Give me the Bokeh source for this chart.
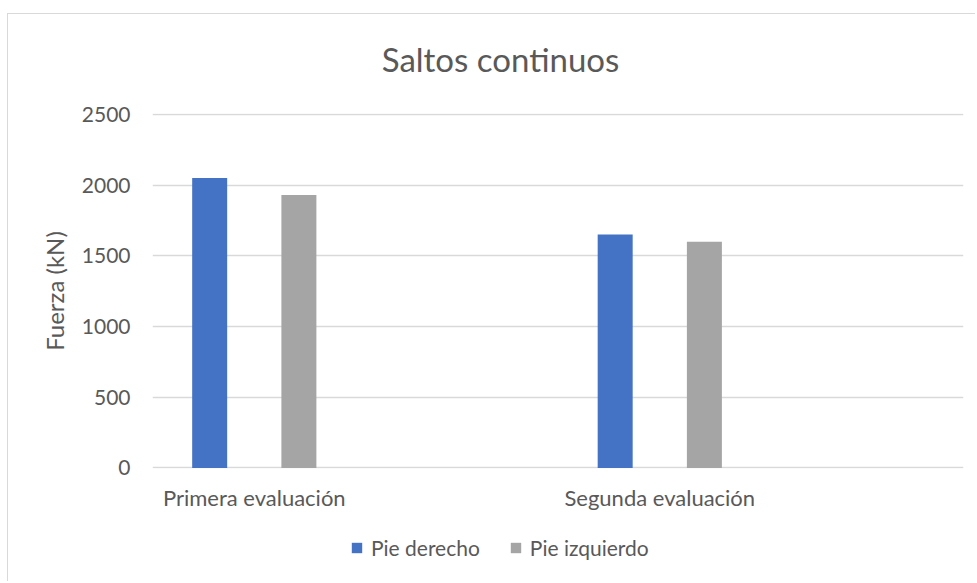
from bokeh.plotting import figure
from bokeh.layouts import column
from bokeh.models import Range1d, FixedTicker, Legend, LegendItem, ColumnDataSource, Label
from bokeh.embed import file_html
from bokeh.resources import INLINE

# ---- data ----
categories = ["Primera evaluación", "Segunda evaluación"]
series_names = ["Pie derecho", "Pie izquierdo"]
pie_derecho = [2050, 1650]
pie_izquierdo = [1930, 1600]
y_ticks = [0, 500, 1000, 1500, 2000, 2500]
title_text = "Saltos continuos"
y_label = "Fuerza (kN)"

# ---- style ----
FONT = "Lato"
TEXT = "#595959"
GRID = "#d9d9d9"
BLUE = "#4472C4"
GRAY = "#A5A5A5"
DODGE = 0.11
BAR_W = 0.0863
W = 967


def strip(height):
    f = figure(width=W, height=height, x_range=Range1d(0, 1), y_range=Range1d(0, 1),
               output_backend="svg", toolbar_location=None,
               x_axis_type=None, y_axis_type=None,
               min_border_left=0, min_border_right=0, min_border_top=0, min_border_bottom=0)
    f.outline_line_color = None
    f.grid.visible = False
    f.background_fill_color = "white"
    f.border_fill_color = "white"
    return f


# ---- title strip ----
tf = strip(86)
tf.add_layout(Label(x=348, y=42, x_units="screen", y_units="screen",
                    text=title_text, text_align="center", text_baseline="alphabetic",
                    text_font=FONT, text_font_size="33px", text_color=TEXT))

# ---- main chart ----
idx = list(range(len(categories)))
src = ColumnDataSource(dict(
    x1=[i - DODGE for i in idx],
    x2=[i + DODGE for i in idx],
    d=pie_derecho,
    iz=pie_izquierdo,
))

p = figure(width=W, height=425,
           x_range=Range1d(-0.251, 1.749), y_range=Range1d(-4, 2506),
           output_backend="svg", toolbar_location=None,
           min_border_left=144, min_border_right=12,
           min_border_top=13, min_border_bottom=57)
p.outline_line_color = None
p.background_fill_color = "white"
p.border_fill_color = "white"

r1 = p.vbar(x="x1", top="d", bottom=0, width=BAR_W, source=src, fill_color=BLUE, line_color=None)
r2 = p.vbar(x="x2", top="iz", bottom=0, width=BAR_W, source=src, fill_color=GRAY, line_color=None)

p.xgrid.visible = False
p.ygrid.ticker = FixedTicker(ticks=y_ticks)
p.ygrid.grid_line_color = GRID
p.ygrid.grid_line_width = 1.5

ya = p.yaxis[0]
ya.ticker = FixedTicker(ticks=y_ticks)
ya.axis_line_color = None
ya.major_tick_line_color = None
ya.minor_tick_line_color = None
ya.major_tick_out = 0
ya.major_tick_in = 0
ya.major_label_standoff = 22
ya.major_label_text_font = FONT
ya.major_label_text_font_size = "21px"
ya.major_label_text_color = TEXT
ya.axis_label = y_label
ya.axis_label_text_font = FONT
ya.axis_label_text_font_size = "24px"
ya.axis_label_text_font_style = "normal"
ya.axis_label_text_color = TEXT
ya.axis_label_standoff = 10

xa = p.xaxis[0]
xa.ticker = FixedTicker(ticks=idx)
xa.major_label_overrides = {i: c for i, c in zip(idx, categories)}
xa.axis_line_color = None
xa.major_tick_line_color = None
xa.minor_tick_line_color = None
xa.major_tick_out = 0
xa.major_tick_in = 0
xa.major_label_standoff = 15
xa.major_label_text_font = FONT
xa.major_label_text_font_size = "22px"
xa.major_label_text_color = TEXT

# ---- legend strip ----
lf = strip(56)
# legend proxies with the series fills; zero-size so nothing is drawn in the strip
k1 = lf.vbar(x=[0.5], top=[0], bottom=0, width=0, fill_color=BLUE, line_color=None)
k2 = lf.vbar(x=[0.5], top=[0], bottom=0, width=0, fill_color=GRAY, line_color=None)
legend = Legend(items=[LegendItem(label=series_names[0], renderers=[k1]),
                       LegendItem(label=series_names[1], renderers=[k2])],
                orientation="horizontal", location=(198, 21),
                glyph_width=13, glyph_height=13, label_standoff=8, spacing=29,
                padding=0, margin=0, border_line_color=None, background_fill_alpha=0,
                label_text_font=FONT, label_text_font_size="21px",
                label_text_color=TEXT, label_height=20)
lf.add_layout(legend)

layout = column(tf, p, lf, spacing=0)
layout.margin = (13, 0, 0, 7)
layout.styles = {"border-left": "1px solid #d9d9d9", "border-top": "1px solid #d9d9d9"}

open("out.html", "w").write(file_html(layout, INLINE))
